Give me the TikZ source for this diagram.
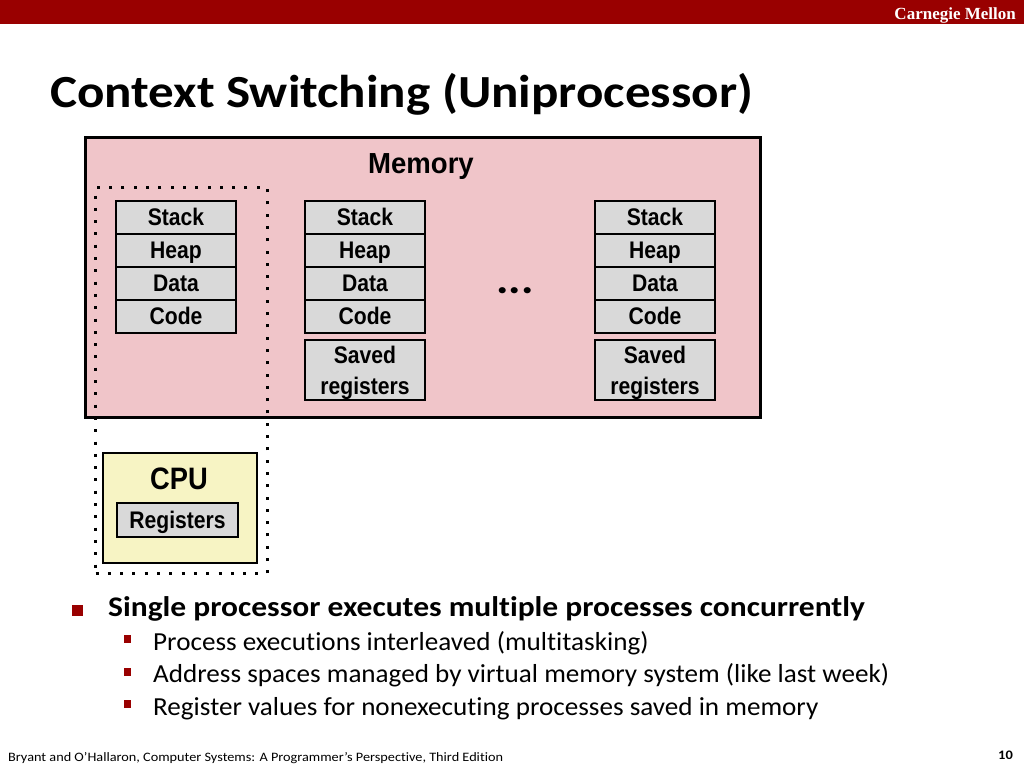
\documentclass[tikz,border=0pt]{standalone}
\usepackage{fontspec}
\setmainfont{Carlito}[Ligatures=NoCommon]
\newfontfamily\carlw[FakeStretch=1.11, Ligatures=NoCommon]{Carlito}
\newfontfamily\carls[FakeStretch=1.043, Ligatures=NoCommon]{Carlito}
\newfontfamily\arialn[FakeStretch=0.88]{Liberation Sans}
\newfontfamily\arialm[FakeStretch=0.95]{Liberation Sans}
\newfontfamily\timesf{Liberation Serif}
\definecolor{hdrred}{RGB}{153,0,0}
\definecolor{mempink}{RGB}{240,197,201}
\definecolor{segray}{RGB}{217,217,217}
\definecolor{cpuyellow}{RGB}{247,244,196}
\definecolor{bulred}{RGB}{153,0,0}
\begin{document}
\begin{tikzpicture}[x=1pt,y=-1pt,
  seg/.style={draw=black, line width=2pt, fill=segray, minimum width=120pt, minimum height=33pt, inner sep=0pt, font=\arialn\bfseries\fontsize{24}{24}\selectfont, text height=17pt, text depth=0pt},
  savedbox/.style={draw=black, line width=2pt, fill=segray, minimum width=120pt, minimum height=60pt, inner sep=0pt, align=center, font=\arialn\bfseries\fontsize{24}{31}\selectfont, text depth=0pt},
  bigbullet/.style={fill=bulred, minimum width=11pt, minimum height=11pt, inner sep=0pt},
  smallbullet/.style={fill=bulred, minimum width=7pt, minimum height=8pt, inner sep=0pt},
  subtext/.style={anchor=base west, inner sep=0pt, font=\carls\fontsize{26}{30}\selectfont},
]
\useasboundingbox (0,0) rectangle (1024,768);
\fill[white] (0,0) rectangle (1024,768);
% header
\node[fill=hdrred, minimum width=1024pt, minimum height=24pt, inner sep=0pt, anchor=north west] (hdr) at (0,0) {};
\node[anchor=base east, inner sep=0pt, text=white, font=\timesf\bfseries\fontsize{17}{17}\selectfont] (cmu) at (1016,19.5) {Carnegie Mellon};
% title
\node[anchor=base west, inner sep=0pt, font=\carlw\bfseries\fontsize{46}{46}\selectfont] (title) at (50,107) {Context Switching (Uniprocessor)};
% memory
\node[draw=black, line width=3pt, fill=mempink, minimum width=675pt, minimum height=280pt, inner sep=0pt, anchor=north west] (mem) at (84,136) {};
\node[inner sep=0pt, font=\arialm\bfseries\fontsize{29}{29}\selectfont, text height=21pt, text depth=0pt] (memlbl) at (421,163) {Memory};
% process 1
\node[seg] (a1) at (176,217) {Stack};
\node[seg] (a2) at (176,250) {Heap};
\node[seg] (a3) at (176,283) {Data};
\node[seg] (a4) at (176,316) {Code};
% process 2
\node[seg] (b1) at (365,217) {Stack};
\node[seg] (b2) at (365,250) {Heap};
\node[seg] (b3) at (365,283) {Data};
\node[seg] (b4) at (365,316) {Code};
\node[savedbox] (b5) at (365,370) {Saved\\registers};
% dots
\node[inner sep=0pt, font=\carlw\bfseries\fontsize{42}{42}\selectfont] (ell) at (515,291) {...};
% process n
\node[seg] (c1) at (655,217) {Stack};
\node[seg] (c2) at (655,250) {Heap};
\node[seg] (c3) at (655,283) {Data};
\node[seg] (c4) at (655,316) {Code};
\node[savedbox] (c5) at (655,370) {Saved\\registers};
% cpu
\node[draw=black, line width=2pt, fill=cpuyellow, minimum width=154pt, minimum height=110pt, inner sep=0pt, anchor=north west] (cpu) at (102,452) {};
\node[inner sep=0pt, font=\arialn\bfseries\fontsize{31}{31}\selectfont, text height=22pt, text depth=0pt] (cpulbl) at (179,478) {CPU};
\node[seg, minimum width=121pt, minimum height=34pt] (regs) at (177.5,520) {Registers};
% dotted running-process frame
\node[draw=black, line width=3pt, dash pattern=on 3pt off 9.3pt, minimum width=172pt, minimum height=386pt, inner sep=0pt, anchor=north west] (run) at (94,186) {};
% bullets
\node[bigbullet] (bb) at (77.5,610) {};
\node[anchor=base west, inner sep=0pt, font=\carlw\bfseries\fontsize{28.4}{30}\selectfont] (t0) at (108,616.5) {Single processor executes multiple processes concurrently};
\node[smallbullet] (sb1) at (127.5,639) {};
\node[subtext] (t1) at (153,650) {Process executions interleaved (multitasking)};
\node[smallbullet] (sb2) at (127.5,671.5) {};
\node[subtext] (t2) at (153,682.5) {Address spaces managed by virtual memory system (like last week)};
\node[smallbullet] (sb3) at (127.5,704) {};
\node[subtext] (t3) at (153,715) {Register values for nonexecuting processes saved in memory};
% footer
\node[anchor=base west, inner sep=0pt, font=\carlw\fontsize{12.85}{13}\selectfont] (foot) at (8,761) {Bryant and O’Hallaron, Computer Systems: A Programmer’s Perspective, Third Edition};
\node[anchor=base east, inner sep=0pt, font=\carlw\bfseries\fontsize{13}{13}\selectfont] (pg) at (1013,759) {10};
\end{tikzpicture}
\end{document}
